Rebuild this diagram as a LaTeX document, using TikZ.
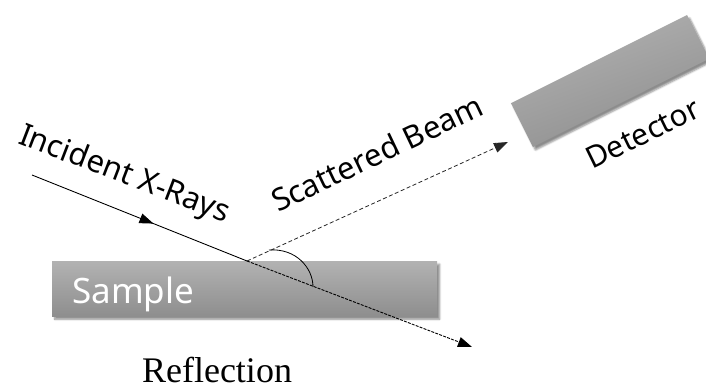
\documentclass[tikz,border=0pt]{standalone}
\usepackage{fontspec}
\setmainfont{Liberation Serif}
\setsansfont{Noto Sans}
\usetikzlibrary{arrows.meta,decorations.markings,shadows.blur,calc}

\definecolor{slabtop}{HTML}{B2B2B2}
\definecolor{slabbot}{HTML}{8E8E8E}

\tikzset{
  slab/.style={draw=none, top color=slabtop, bottom color=slabbot,
    inner sep=0pt,
    blur shadow={shadow xshift=2.5pt, shadow yshift=-3pt, shadow blur steps=6, shadow opacity=45}},
  tiphead/.style={-{Triangle[length=14pt,width=10pt]}},
  beam/.style={line width=0.9pt, black},
  beamlabel/.style={inner sep=0pt, anchor=base west, font=\sffamily\fontsize{31}{36}\selectfont},
}

\begin{document}
\begin{tikzpicture}[x=1pt, y=-1pt]
  \useasboundingbox (0,0) rectangle (706,387);
  \clip (0,0) rectangle (706,387);

  % sample slab and detector
  \node[slab, minimum width=385pt, minimum height=55pt, anchor=north west] (sample) at (52,261) {};
  \node[slab, minimum width=197pt, minimum height=49pt, rotate=26.6,
        shading angle=20] (detector) at (610,81) {};

  % key points of the beam paths
  \coordinate (src) at (32,175);
  \coordinate (hit) at (247,261);
  \coordinate (out) at (472,347);
  \coordinate (det) at (508,142);
  \coordinate (arcA) at (269,250);
  \coordinate (arcB) at (313,287);

  % incident beam with an arrowhead along the way
  \draw[beam, decoration={markings,
        mark=at position 0.565 with {\arrow{Triangle[length=14pt,width=10pt]}}},
        postaction={decorate}] (src) -- (hit);

  % transmitted part through the slab
  \draw[beam, tiphead, dash pattern=on 3pt off 1.2pt] (hit) -- (out);

  % scattered beam towards the detector
  \draw[line width=0.8pt, black!85, tiphead, dash pattern=on 4pt off 2.5pt] (hit) -- (det);

  % scattering angle
  \draw[line width=0.8pt] (arcA) .. controls (296,248) and (313,268) .. (arcB);

  % labels
  \node[beamlabel, rotate=-21] (lblin) at (17,143) {Incident X-Rays};
  \node[beamlabel, rotate=25.5] (lblsc) at (278,213) {Scattered Beam};
  \node[beamlabel, rotate=26, font=\sffamily\fontsize{30}{36}\selectfont] (lbldet) at (592,170) {Detector};
  \node[font=\sffamily\fontsize{35}{40}\selectfont, text=white, inner sep=0pt,
        anchor=base west] (lblsample) at (72,303) {Sample};
  \node[font=\fontsize{36}{40}\selectfont, inner sep=0pt, anchor=base] (lblref) at (217,382) {Reflection};
\end{tikzpicture}
\end{document}
